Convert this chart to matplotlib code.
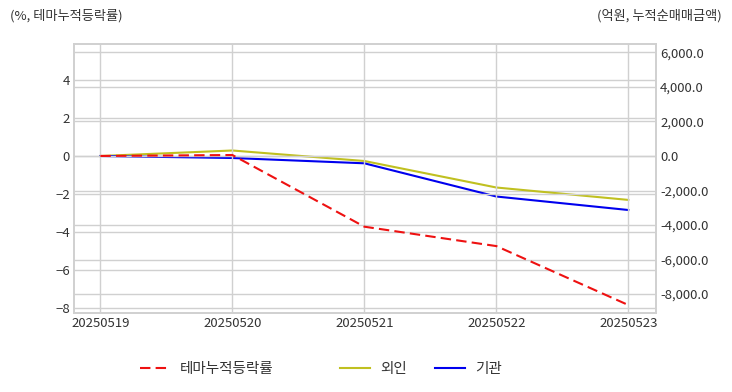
import matplotlib
matplotlib.use("Agg")
import matplotlib.pyplot as plt
from matplotlib.ticker import FuncFormatter

plt.rcParams['font.family'] = ['Noto Sans CJK KR', 'DejaVu Sans']

dates = ["20250519", "20250520", "20250521", "20250522", "20250523"]
theme_rate = [0.0, 0.05, -3.72, -4.74, -7.84]
foreign = [0.0, 319.0, -290.0, -1826.0, -2545.0]
institution = [0.0, -116.0, -423.0, -2348.0, -3130.0]

left_ticks = [-8, -6, -4, -2, 0, 2, 4]
right_ticks = [-8000, -6000, -4000, -2000, 0, 2000, 4000, 6000]

grid_c = '#d0d0d0'
text_c = '#333333'

fig = plt.figure(figsize=(7.32, 3.92), dpi=100)
ax = fig.add_axes([0.1011, 0.2015, 0.7951, 0.6863])
ax2 = ax.twinx()

x = list(range(len(dates)))
l1, = ax.plot(x, theme_rate, color='#ee1111', linestyle=(0, (5, 2.5)), linewidth=1.5, label='테마누적등락률')
l2, = ax2.plot(x, foreign, color='#c0c020', linewidth=1.5, label='외인')
l3, = ax2.plot(x, institution, color='#0000ee', linewidth=1.5, label='기관')

ax.set_xlim(-0.2, 4.21)
ax.set_ylim(-8.26, 5.89)
ax2.set_ylim(-9101, 6493)
ax.set_xticks(x)
ax.set_xticklabels(dates)
ax.set_yticks(left_ticks)
ax2.set_yticks(right_ticks)
ax2.yaxis.set_major_formatter(FuncFormatter(lambda v, p: f"{v:,.1f}"))

for a in (ax, ax2):
    a.tick_params(length=0, labelsize=9.5, colors=text_c, pad=3)
    for s in a.spines.values():
        s.set_color(grid_c)
        s.set_linewidth(1.2)
ax.grid(True, color=grid_c, linewidth=1)
ax2.grid(True, axis='y', color=grid_c, linewidth=1)
ax.set_axisbelow(True)
ax2.set_axisbelow(True)
ax.set_zorder(ax2.get_zorder() + 1)
ax.patch.set_visible(False)

fig.text(10/732, 1 - 16/392, '(%, 테마누적등락률)', fontsize=9.5, color=text_c, va='center', ha='left')
fig.text(722/732, 1 - 16/392, '(억원, 누적순매매금액)', fontsize=9.5, color=text_c, va='center', ha='right')

legend_x = [140, 340, 435]
for h, lx in zip([l1, l2, l3], legend_x):
    leg = fig.legend(handles=[h], loc='center left', bbox_to_anchor=(lx/732, 1 - 369/392),
                     frameon=False, fontsize=10.5, handlelength=2.05, handletextpad=0.7,
                     borderpad=0, borderaxespad=0, labelcolor=text_c)

fig.savefig('out.png', dpi=100)
